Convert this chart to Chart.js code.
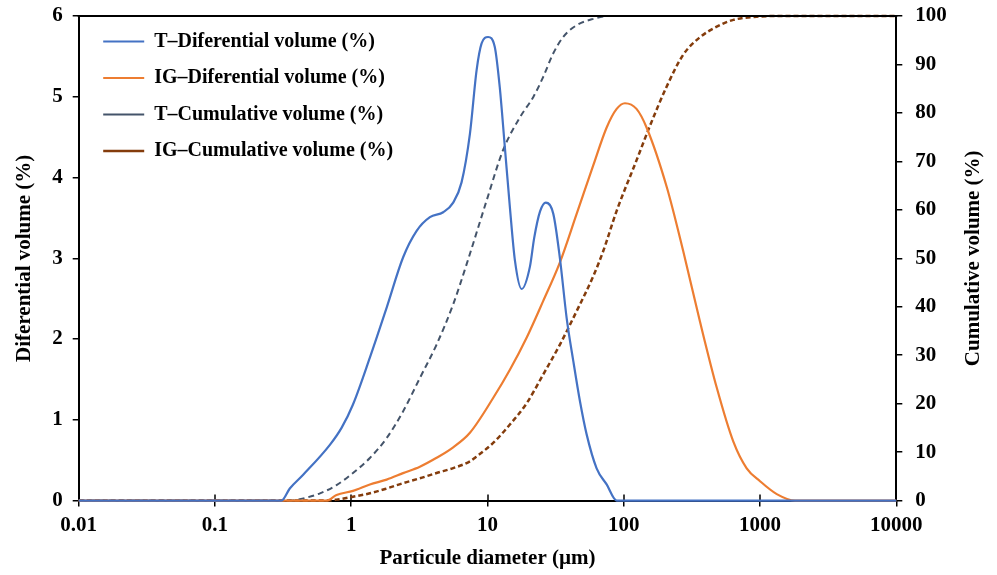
<!DOCTYPE html>
<html>
<head>
<meta charset="utf-8">
<script src="https://cdn.jsdelivr.net/npm/chart.js@4.4.1/dist/chart.umd.min.js"></script>
<style>
  html, body { margin: 0; padding: 0; background: #fff; }
</style>
</head>
<body>
<canvas id="psd" width="997" height="575"></canvas>
<script>
// particle sizes (µm) and values
const tDiffSize = [0.01, 0.308, 0.354, 0.444, 0.697, 0.849, 1.03, 1.37, 1.82, 2.40, 3.02, 3.78, 4.73, 5.60, 6.45, 7.43, 8.32, 9.05, 10.1, 11.3, 12.3, 13.4, 14.6, 15.9, 17.8, 20.5, 22.0, 24.3, 26.8, 30.4, 34.0, 38.1, 42.6, 47.7, 53.4, 63.2, 74.9, 88.7, 10000];
const tDiff = [0, 0, 0.15, 0.32, 0.69, 0.90, 1.19, 1.77, 2.39, 3.01, 3.34, 3.51, 3.57, 3.69, 3.94, 4.54, 5.33, 5.66, 5.74, 5.62, 5.12, 4.38, 3.63, 2.97, 2.62, 2.90, 3.25, 3.58, 3.69, 3.55, 3.00, 2.26, 1.73, 1.23, 0.82, 0.40, 0.20, 0, 0];

const igDiffSize = [0.01, 0.66, 0.78, 1.03, 1.37, 1.82, 2.40, 3.19, 4.23, 5.60, 7.43, 11.0, 14.6, 19.4, 25.6, 34.0, 45.1, 59.7, 74.9, 88.7, 102, 124, 147, 207, 273, 362, 481, 637, 798, 1000, 1327, 1807, 10000];
const igDiff = [0, 0, 0.07, 0.12, 0.20, 0.26, 0.34, 0.42, 0.53, 0.66, 0.84, 1.27, 1.62, 2.02, 2.47, 2.95, 3.55, 4.15, 4.62, 4.85, 4.92, 4.85, 4.62, 3.88, 3.09, 2.22, 1.40, 0.73, 0.40, 0.24, 0.08, 0, 0];

const tCumSize = [0.01, 0.35, 0.42, 0.59, 0.78, 1.03, 1.37, 1.82, 2.40, 3.19, 4.23, 5.60, 7.03, 9.85, 13.0, 17.3, 21.7, 25.6, 30.4, 36.0, 45.1, 59.7, 79.2, 10000];
const tCum = [0, 0, 0.3, 1.5, 3.2, 5.7, 8.8, 12.9, 18.4, 25.3, 32.2, 40.5, 48.8, 61.9, 72.3, 79.1, 83.3, 87.4, 92.3, 95.7, 98.1, 99.4, 100, 100];

const igCumSize = [0.01, 0.66, 0.78, 1.03, 1.37, 1.82, 2.40, 3.19, 4.23, 5.60, 7.43, 8.32, 11.0, 14.6, 19.4, 25.6, 34.0, 45.1, 59.7, 70.7, 88.7, 124, 156, 207, 273, 362, 481, 637, 1000, 1403, 10000];
const igCum = [0, 0, 0.2, 0.8, 1.5, 2.5, 3.6, 4.6, 5.7, 6.7, 8.1, 9.1, 11.9, 15.7, 20.1, 26.0, 32.2, 39.1, 46.3, 51.5, 59.8, 70.2, 77.4, 85.5, 92.0, 95.6, 97.8, 99.2, 99.9, 100, 100];

const xTickValues = [0.01, 0.1, 1, 10, 100, 1000, 10000];
const xTickLabels = ['0.01', '0.1', '1', '10', '100', '1000', '10000'];

const seriesNames = ['T\u2013Diferential volume (%)', 'IG\u2013Diferential volume (%)', 'T\u2013Cumulative volume (%)', 'IG\u2013Cumulative volume (%)'];

const serif = '"Liberation Serif", "Times New Roman", serif';
const tickFont = { family: serif, size: 21, weight: 'bold' };
const titleFont = { family: serif, size: 21, weight: 'bold' };

const toPoints = (xs, ys) => xs.map((x, i) => ({ x, y: ys[i] }));

function lineSet(label, xs, ys, color, axis, dash, width) {
  return {
    label,
    data: toPoints(xs, ys),
    yAxisID: axis,
    borderColor: color,
    backgroundColor: color,
    borderWidth: width,
    borderDash: dash,
    pointRadius: 0,
    cubicInterpolationMode: 'monotone',
    fill: false,
    clip: false,
  };
}

// keep the top of the plot close to the canvas edge (tick padding would push it down)
const trimTop = (scale) => { scale.paddingTop = 16; };

// top frame line plus the inner half of the x tick marks (they cross the axis)
const frameTop = {
  id: 'frameTop',
  beforeDatasetsDraw(chart) {
    const { ctx, chartArea, scales } = chart;
    ctx.save();
    ctx.strokeStyle = '#000';
    ctx.lineWidth = 1.5;
    ctx.beginPath();
    xTickValues.forEach((v) => {
      const px = Math.round(scales.x.getPixelForValue(v));
      ctx.moveTo(px, chartArea.bottom);
      ctx.lineTo(px, chartArea.bottom - 6);
    });
    ctx.stroke();
    ctx.restore();
  },
  afterDatasetsDraw(chart) {
    const { ctx, chartArea } = chart;
    ctx.save();
    ctx.strokeStyle = '#000';
    ctx.lineWidth = 2;
    ctx.beginPath();
    ctx.moveTo(chartArea.left - 1, chartArea.top);
    ctx.lineTo(chartArea.right + 1, chartArea.top);
    ctx.stroke();
    ctx.restore();
  },
};

// legend sits inside the plot, a bit in from the top-left corner
const legendInset = {
  id: 'legendInset',
  afterLayout(chart) {
    const lg = chart.legend;
    if (!lg) return;
    lg.left = chart.chartArea.left + 8;
    lg.top = chart.chartArea.top - 1;
  },
};

// right axis title reads bottom-to-top in the original
const rightTitle = {
  id: 'rightTitle',
  afterDraw(chart) {
    const s = chart.scales.y2;
    const { ctx } = chart;
    const x = s.right - (titleFont.size * 1.2) / 2 - 4;
    const y = (s.top + s.bottom) / 2;
    ctx.save();
    ctx.translate(x, y);
    ctx.rotate(-Math.PI / 2);
    ctx.font = `bold ${titleFont.size}px ${serif}`;
    ctx.fillStyle = '#000';
    ctx.textAlign = 'center';
    ctx.textBaseline = 'middle';
    ctx.fillText('Cumulative volume (%)', 0, 0);
    ctx.restore();
  },
};

new Chart(document.getElementById('psd').getContext('2d'), {
  type: 'line',
  data: {
    datasets: [
      lineSet(seriesNames[0], tDiffSize, tDiff, '#4472C4', 'y', [], 2.2),
      lineSet(seriesNames[1], igDiffSize, igDiff, '#ED7D31', 'y', [], 2.2),
      lineSet(seriesNames[2], tCumSize, tCum, '#44546A', 'y2', [6, 4], 2),
      lineSet(seriesNames[3], igCumSize, igCum, '#843C0C', 'y2', [5, 3], 2.5),
    ],
  },
  options: {
    responsive: false,
    devicePixelRatio: 1,
    animation: false,
    layout: { padding: { left: 12, right: 7, top: 2, bottom: 4 } },
    plugins: {
      tooltip: { enabled: false },
      legend: {
        position: 'chartArea',
        align: 'start',
        labels: {
          color: '#000',
          font: { family: serif, size: 20, weight: 'bold' },
          usePointStyle: true,
          pointStyle: 'line',
          pointStyleWidth: 41,
          boxHeight: 20,
          padding: 16.5,
        },
      },
    },
    scales: {
      x: {
        type: 'logarithmic',
        position: 'bottom',
        min: 0.01,
        max: 10000,
        afterBuildTicks: (scale) => { scale.ticks = xTickValues.map((v) => ({ value: v })); },
        ticks: {
          autoSkip: false,
          maxRotation: 0,
          color: '#000',
          font: tickFont,
          padding: 6,
          callback: (v, i) => xTickLabels[i],
        },
        grid: { drawOnChartArea: false, color: '#000', lineWidth: 1.5, tickLength: 6 },
        border: { color: '#000', width: 2 },
        title: { display: true, text: 'Particule diameter (\u00b5m)', color: '#000', font: titleFont, padding: { top: 2, bottom: 0 } },
      },
      y: {
        position: 'left',
        min: 0,
        max: 6,
        afterFit: trimTop,
        ticks: { stepSize: 1, color: '#000', font: tickFont, padding: 10 },
        grid: { drawOnChartArea: false, color: '#000', lineWidth: 1.5, tickLength: 6 },
        border: { color: '#000', width: 2 },
        title: { display: true, text: 'Diferential volume (%)', color: '#000', font: titleFont, padding: { top: 0, bottom: 5 } },
      },
      y2: {
        position: 'right',
        min: 0,
        max: 100,
        afterFit: trimTop,
        ticks: { stepSize: 10, color: '#000', font: tickFont, padding: 13 },
        grid: { drawOnChartArea: false, color: '#000', lineWidth: 1.5, tickLength: 6 },
        border: { color: '#000', width: 2 },
        title: { display: true, text: 'Cumulative volume (%)', color: 'rgba(0,0,0,0)', font: titleFont, padding: { top: 4, bottom: 1 } },
      },
    },
  },
  plugins: [frameTop, legendInset, rightTitle],
});
</script>
</body>
</html>
